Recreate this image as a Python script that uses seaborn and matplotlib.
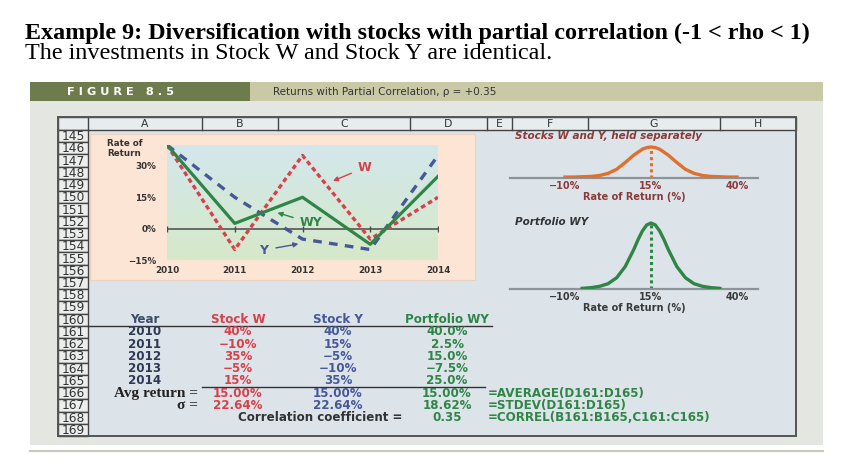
import numpy as np
import pandas as pd
import matplotlib
matplotlib.use("Agg")
import matplotlib.pyplot as plt
from matplotlib.patches import Rectangle
from matplotlib.colors import LinearSegmentedColormap
import seaborn as sns

# ---------------- data ----------------
years = [2010, 2011, 2012, 2013, 2014]
stock_w = [40, -10, 35, -5, 15]
stock_y = [40, 15, -5, -10, 35]
portfolio_wy = [40.0, 2.5, 15.0, -7.5, 25.0]
avg_returns = [15.00, 15.00, 15.00]
std_devs = [22.64, 22.64, 18.62]
correlation = 0.35
formulas = ["=AVERAGE(D161:D165)", "=STDEV(D161:D165)", "=CORREL(B161:B165,C161:C165)"]
y_ticks = [30, 15, 0, -15]
dist_ticks = [-10, 15, 40]
row_numbers = list(range(145, 170))
col_letters = ["A", "B", "C", "D", "E", "F", "G", "H"]

# bell-curve shapes (relative heights)
sep_x = [-10, -7.5, -5, -2.5, 0, 2.5, 5, 7.5, 10, 12.5, 13.75, 15, 16.25, 17.5, 20, 22.5, 25, 27.5, 30, 32.5, 35, 37.5, 40]
sep_h = [0.03, 0.03, 0.04, 0.05, 0.08, 0.15, 0.28, 0.50, 0.74, 0.93, 0.98, 1.0, 0.98, 0.93, 0.74, 0.50, 0.28, 0.15, 0.08, 0.05, 0.04, 0.03, 0.03]
port_x = [-5, -2.5, 0, 2.5, 5, 7.5, 10, 11.25, 12.5, 13.75, 15, 16.25, 17.5, 18.75, 20, 22.5, 25, 27.5, 30, 32.5, 35]
port_h = [0.01, 0.02, 0.04, 0.08, 0.17, 0.34, 0.60, 0.75, 0.88, 0.97, 1.0, 0.97, 0.88, 0.75, 0.60, 0.34, 0.17, 0.08, 0.04, 0.02, 0.01]

# ---------------- colours ----------------
RED = "#d8404a"
BLUE = "#46579a"
GREEN = "#2f8546"
DARK = "#2e3a55"
BROWN = "#8b3a3a"
ORANGE = "#e0702e"

W, H = 846, 468
fig = plt.figure(figsize=(W / 100, H / 100), dpi=100)
bg = fig.add_axes([0, 0, 1, 1])
bg.set_xlim(0, W)
bg.set_ylim(H, 0)
bg.axis("off")


def pax(x0, y0, x1, y1):
    return fig.add_axes([x0 / W, 1 - y1 / H, (x1 - x0) / W, (y1 - y0) / H])


def rect(x0, y0, x1, y1, fc, ec="none", lw=0, z=1):
    bg.add_patch(Rectangle((x0, y0), x1 - x0, y1 - y0, facecolor=fc, edgecolor=ec, lw=lw, zorder=z))


# ---------------- titles ----------------
bg.text(25, 39, "Example 9: Diversification with stocks with partial correlation (-1 < rho < 1)",
        family="Liberation Serif", weight="bold", fontsize=17.4, va="baseline", ha="left", color="black")
bg.text(25, 59, "The investments in Stock W and Stock Y are identical.",
        family="Liberation Serif", fontsize=17.4, va="baseline", ha="left", color="black")

# ---------------- figure band ----------------
rect(30, 82, 250, 101, "#6e7b4c")
rect(250, 82, 823, 101, "#c9caa5")
bg.text(67, 92, "F I G U R E   8 . 5", color="white", weight="bold", fontsize=8.2,
        family="DejaVu Sans", va="center", ha="left")
bg.text(273, 92, "Returns with Partial Correlation, ρ = +0.35", color="#333333", fontsize=7.5,
        family="DejaVu Sans", va="center", ha="left")

# grey panel
rect(30, 101, 823, 445, "#e3e6e1")
bg.plot([30, 823], [451, 451], color="#c9c9c0", lw=1.5, zorder=1)

# ---------------- spreadsheet ----------------
SX0, SX1, HY0, HY1, RY1 = 58, 796, 117, 130, 436
rect(SX0, HY0, SX1, RY1, "#dce4ea", z=1)
rect(SX0, HY0, SX1, HY1, "#e8ecee", ec="#444444", lw=1.0, z=2)
col_edges = [88, 202, 278, 410, 487, 512, 588, 720, 796]
for xe in col_edges[:-1]:
    bg.plot([xe, xe], [HY0, HY1], color="#444444", lw=1.0, zorder=3)
for i, letter in enumerate(col_letters):
    bg.text((col_edges[i] + col_edges[i + 1]) / 2, (HY0 + HY1) / 2 + 0.5, letter, ha="center", va="center",
            fontsize=7.8, color="#333333", family="DejaVu Sans", zorder=4)
rh = (RY1 - HY1) / len(row_numbers)
for i, rn in enumerate(row_numbers):
    y0 = HY1 + i * rh
    rect(SX0, y0, 88, y0 + rh, "#eceeee", ec="#444444", lw=1.0, z=2)
    bg.text(73, y0 + rh / 2 + 0.5, str(rn), ha="center", va="center", fontsize=8.8,
            color="#333333", family="DejaVu Sans", zorder=4)
bg.add_patch(Rectangle((SX0, HY0), SX1 - SX0, RY1 - HY0, facecolor="none", edgecolor="#555555", lw=1.4, zorder=5))


def ry(r):
    return HY1 + (r - 145 + 0.5) * rh


# ---------------- line chart ----------------
rect(90, 134, 475, 280, "#fce5d4", ec="#ead2c2", lw=0.8, z=2)
ax = pax(167, 145, 438, 260)
grad = LinearSegmentedColormap.from_list("g", ["#d3e7ec", "#d6e9c9"])
ax.imshow(np.linspace(0, 1, 100).reshape(-1, 1), cmap=grad, extent=[2010, 2014, -15, 40],
          aspect="auto", zorder=0)
ax.axhline(0, color="#4a4a4a", lw=1.1, zorder=1)
ax.plot(years, [0] * len(years), ls="none", marker="|", ms=4, mew=1, color="#4a4a4a", zorder=1)
sns.lineplot(x=years, y=stock_w, ax=ax, color=RED, lw=2.4, linestyle=(0, (1.4, 1.0)), zorder=3)
sns.lineplot(x=years, y=stock_y, ax=ax, color=BLUE, lw=2.4, linestyle=(0, (2.6, 2.2)), zorder=3)
sns.lineplot(x=years, y=portfolio_wy, ax=ax, color=GREEN, lw=2.3, zorder=4)
ax.set_xlim(2010, 2014)
ax.set_ylim(-15, 40)
ax.set_xlabel("")
ax.set_ylabel("")
ax.set_xticks(years)
ax.set_xticklabels([str(y) for y in years], fontsize=6.3, weight="bold", color="#333333", family="DejaVu Sans")
ax.set_yticks(y_ticks)
ax.set_yticklabels([f"{t}%".replace("-", "−") for t in y_ticks], fontsize=6.3, weight="bold",
                   color="#333333", family="DejaVu Sans")
ax.tick_params(length=0, pad=4)
ax.tick_params(axis="y", pad=8)
for s in ax.spines.values():
    s.set_visible(False)
ax.set_facecolor("none")
ax.annotate("W", xy=(2012.45, 22.8), xytext=(2012.92, 29.2), color=RED, weight="bold", fontsize=9,
            family="DejaVu Sans", ha="center", va="center",
            arrowprops=dict(arrowstyle="-|>", color=RED, lw=1, mutation_scale=7, shrinkA=3, shrinkB=0))
ax.annotate("WY", xy=(2011.63, 7.6), xytext=(2012.13, 2.7), color=GREEN, weight="bold", fontsize=9,
            family="DejaVu Sans", ha="center", va="center",
            arrowprops=dict(arrowstyle="-|>", color=GREEN, lw=1, mutation_scale=7, shrinkA=3, shrinkB=0))
ax.annotate("Y", xy=(2011.94, -7.3), xytext=(2011.42, -10.3), color=BLUE, weight="bold", fontsize=9,
            family="DejaVu Sans", ha="center", va="center",
            arrowprops=dict(arrowstyle="-|>", color=BLUE, lw=1, mutation_scale=7, shrinkA=4, shrinkB=0))
bg.text(107, 144, "Rate of", fontsize=6.3, weight="bold", color="#333333", family="DejaVu Sans",
        ha="left", va="center", zorder=6)
bg.text(107, 153, "Return", fontsize=6.3, weight="bold", color="#333333", family="DejaVu Sans",
        ha="left", va="center", zorder=6)


# ---------------- distribution curves ----------------
def dist_axes(y0, y1, xs, hs, color, tick_color, peak_px):
    a = pax(510, y0, 758, y1)
    sns.lineplot(x=xs, y=hs, ax=a, color=color, lw=2.4, zorder=3)
    a.vlines(avg_returns[0], 0, max(hs), colors=color, linestyles=(0, (1, 1)), lw=2.2, zorder=2)
    a.set_xlim(-26, 46.1)
    a.set_ylim(0, (y1 - y0) / peak_px)
    a.set_facecolor("none")
    for k, s in a.spines.items():
        s.set_visible(k == "bottom")
    a.spines["bottom"].set_color("#8d9398")
    a.spines["bottom"].set_linewidth(1.6)
    a.set_yticks([])
    a.set_xticks(dist_ticks)
    a.set_xticklabels([f"{t}%".replace("-", "−") for t in dist_ticks], fontsize=7, weight="bold",
                      color=tick_color, family="DejaVu Sans")
    a.tick_params(length=0, pad=2)
    a.set_xlabel("Rate of Return (%)", fontsize=7, weight="bold", color=tick_color, family="DejaVu Sans",
                  labelpad=1)
    a.set_ylabel("")
    return a


dist_axes(145, 178, sep_x, sep_h, ORANGE, BROWN, 31)
dist_axes(221, 289, port_x, port_h, GREEN, "#3a3a3a", 66)
bg.text(515, 136, "Stocks W and Y, held separately", fontsize=7.5, weight="bold", style="italic",
        color=BROWN, family="DejaVu Sans", ha="left", va="center", zorder=6)
bg.text(515, 222, "Portfolio WY", fontsize=7.5, weight="bold", style="italic",
        color="#333333", family="DejaVu Sans", ha="left", va="center", zorder=6)

# ---------------- table ----------------
TF = dict(family="DejaVu Sans", weight="bold", fontsize=8.6, va="center", zorder=6)
cx_year, cx_w, cx_y, cx_p = 145, 238, 338, 447
bg.text(cx_year, ry(160), "Year", color="#3d4a6b", ha="center", **TF)
bg.text(cx_w, ry(160), "Stock W", color=RED, ha="center", **TF)
bg.text(cx_y, ry(160), "Stock Y", color=BLUE, ha="center", **TF)
bg.text(cx_p, ry(160), "Portfolio WY", color=GREEN, ha="center", **TF)
bg.plot([88, 492], [HY1 + 16 * rh, HY1 + 16 * rh], color="#333333", lw=1.0, zorder=6)
for i, yr in enumerate(years):
    r = 161 + i
    bg.text(cx_year, ry(r), str(yr), color=DARK, ha="center", **TF)
    bg.text(cx_w, ry(r), f"{stock_w[i]}%".replace("-", "−"), color=RED, ha="center", **TF)
    bg.text(cx_y, ry(r), f"{stock_y[i]}%".replace("-", "−"), color=BLUE, ha="center", **TF)
    bg.text(cx_p, ry(r), f"{portfolio_wy[i]:.1f}%".replace("-", "−"), color=GREEN, ha="center", **TF)
bg.plot([202, 485], [HY1 + 21 * rh, HY1 + 21 * rh], color="#333333", lw=1.0, zorder=6)
SF = dict(family="Liberation Serif", weight="bold", fontsize=11, va="center", ha="right", color="#222222", zorder=6)
bg.text(198, ry(166), "Avg return =", **SF)
bg.text(198, ry(167), "σ =", **SF)
for j, (cx, col) in enumerate([(cx_w, RED), (cx_y, BLUE), (cx_p, GREEN)]):
    bg.text(cx, ry(166), f"{avg_returns[j]:.2f}%", color=col, ha="center", **TF)
    bg.text(cx, ry(167), f"{std_devs[j]:.2f}%", color=col, ha="center", **TF)
bg.text(320, ry(168), "Correlation coefficient =", color="#333333", ha="center", **TF)
bg.text(cx_p, ry(168), f"{correlation:.2f}", color=GREEN, ha="center", **TF)
for k, f in enumerate(formulas):
    bg.text(488, ry(166 + k), f, color=GREEN, ha="left", **TF)

fig.savefig("out.png", dpi=100)
